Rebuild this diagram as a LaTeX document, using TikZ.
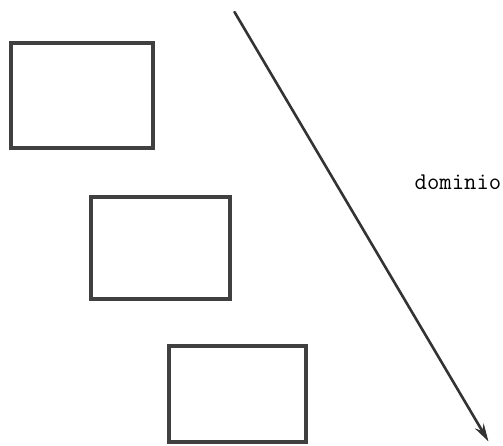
\documentclass[tikz,border=0pt]{standalone}
\usepackage{tikz}
\usetikzlibrary{arrows.meta}

\begin{document}
\begin{tikzpicture}[x=1pt,y=-1pt,line cap=round,
  objbox/.style={draw=black!75,line width=4.2pt,inner sep=0pt,fill=white}]
\path[use as bounding box] (0,0) rectangle (503,446);
\node[objbox,minimum width=141.5pt,minimum height=104.5pt] (obja) at (82.0,95.5) {};
\node[objbox,minimum width=139.5pt,minimum height=101.5pt] (objb) at (160.5,248.0) {};
\node[objbox,minimum width=136.5pt,minimum height=96.5pt] (objc) at (237.5,394.0) {};
\coordinate (dtop) at (234.5,12.0);
\coordinate (dbot) at (488.5,441.5);
\draw[line width=2.6pt,black!80,-{Stealth[length=18pt,width=10pt]}] (dtop) -- (dbot);
\node[font=\ttfamily\fontsize{24}{24}\selectfont,inner sep=0pt] (dlabel) at (458.0,182.5) {dominio};
\end{tikzpicture}
\end{document}
